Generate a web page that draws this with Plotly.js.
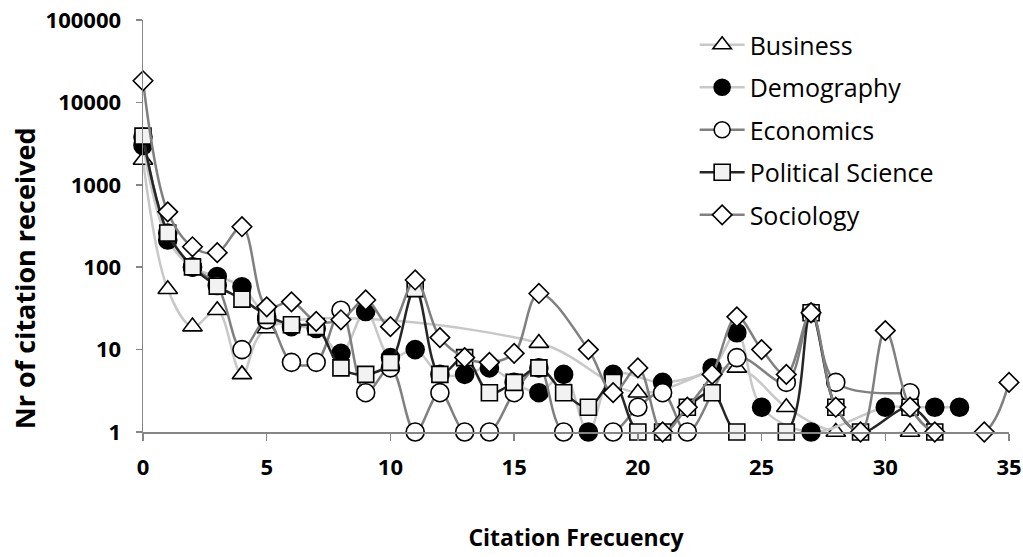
<!DOCTYPE html>
<html>
<head>
<meta charset="utf-8">
<script src="https://cdn.plot.ly/plotly-3.0.1.min.js"></script>
<style>html,body{margin:0;padding:0;background:#fff;}#chart{width:1023px;height:557px;}</style>
</head>
<body>
<div id="chart"></div>
<script>
// Citation frequency (x) 0..35
const citationFrequency = [0,1,2,3,4,5,6,7,8,9,10,11,12,13,14,15,16,17,18,19,20,21,22,23,24,25,26,27,28,29,30,31,32,33,34,35];
const business       = [2000,54,19,30,5,18,null,null,null,null,null,null,null,null,null,null,12,null,null,null,3,null,null,null,6,null,2,null,1,null,null,1,null,null,null,null];
const demography     = [3000,214,100,77,58,25,19,18,9,29,8,10,5,5,6,4,3,5,1,5,null,4,null,6,16,2,null,1,null,null,2,2,2,2,null,null];
const economics      = [3800,260,101,60,10,23,7,7,30,3,6,1,3,1,1,3,6,1,null,1,2,3,1,null,8,null,4,28,4,null,null,3,null,null,null,null];
const politicalScience = [3900,260,101,59,41,26,20,19,6,5,7,55,5,8,3,4,6,3,2,4,1,1,2,3,1,null,1,28,2,1,null,2,1,null,null,null];
const sociology      = [18300,470,177,150,310,33,38,22,23,40,19,70,14,8,7,9,48,null,10,3,6,1,2,5,25,10,5,28,2,1,17,2,1,null,1,4];

const seriesNames = ['Business','Demography','Economics','Political Science','Sociology'];
const yTickVals = [1,10,100,1000,10000,100000];
const yTickText = ['1','10','100','1000','10000','100000'];

const styles = [
  {line:'#C8C8C8', symbol:'triangle-up', fill:'#FFFFFF', size:17},
  {line:'#C8C8C8', symbol:'circle', fill:'#000000', size:18},
  {line:'#808080', symbol:'circle', fill:'#FFFFFF', size:18},
  {line:'#262626', symbol:'square', fill:'#F2F2F2', size:16},
  {line:'#808080', symbol:'diamond', fill:'#FFFFFF', size:15}
];
const seriesData = [business, demography, economics, politicalScience, sociology];

const traces = seriesData.map((ys, i) => ({
  type:'scatter', mode:'lines+markers', name: seriesNames[i], legendgroup: 'g'+i,
  x: citationFrequency, y: ys, connectgaps: true, cliponaxis: false,
  line: {color: styles[i].line, width: 2.5, shape: 'spline', smoothing: 1},
  marker: {symbol: styles[i].symbol, size: styles[i].size, color: styles[i].fill,
           line: {color: '#000000', width: 1.6}}
}));

const tickFont = {family:'Open Sans, sans-serif', size:22, color:'#000', weight:'bold'};
const layout = {
  width:1023, height:557,
  margin:{l:143, r:14, t:20, b:125},
  paper_bgcolor:'#fff', plot_bgcolor:'#fff',
  showlegend:true,
  legend:{x:0.637, y:0.995, xanchor:'left', yanchor:'top', traceorder:'grouped', tracegroupgap:7,
          itemwidth:45, font:{family:'Open Sans, sans-serif', size:25, color:'#000'}, bgcolor:'rgba(0,0,0,0)'},
  xaxis:{range:[0,35], tick0:0, dtick:5, ticks:'outside', ticklen:7, tickwidth:1.5, tickcolor:'#868686',
         showline:true, linecolor:'#868686', linewidth:1.5, showgrid:false, zeroline:false,
         tickfont:tickFont, ticklabelstandoff:8,
         title:{text:'Citation Frecuency', font:{family:'Open Sans, sans-serif', size:23, color:'#000', weight:'bold'}, standoff:50}},
  yaxis:{type:'log', range:[0,5], tickvals:yTickVals, ticktext:yTickText, ticks:'outside', ticklen:6, tickwidth:1.5,
         tickcolor:'#868686', showline:true, linecolor:'#868686', linewidth:1.5, showgrid:false, zeroline:false,
         tickfont:tickFont, ticklabelstandoff:10},
  annotations:[{text:'Nr of citation received', textangle:-90, xref:'paper', yref:'paper',
                x:-0.136, y:0.374, xanchor:'center', yanchor:'middle', showarrow:false,
                font:{family:'Open Sans, sans-serif', size:27, color:'#000', weight:'bold'}}]
};
Plotly.newPlot('chart', traces, layout, {displayModeBar:false, staticPlot:true});
</script>
</body>
</html>
